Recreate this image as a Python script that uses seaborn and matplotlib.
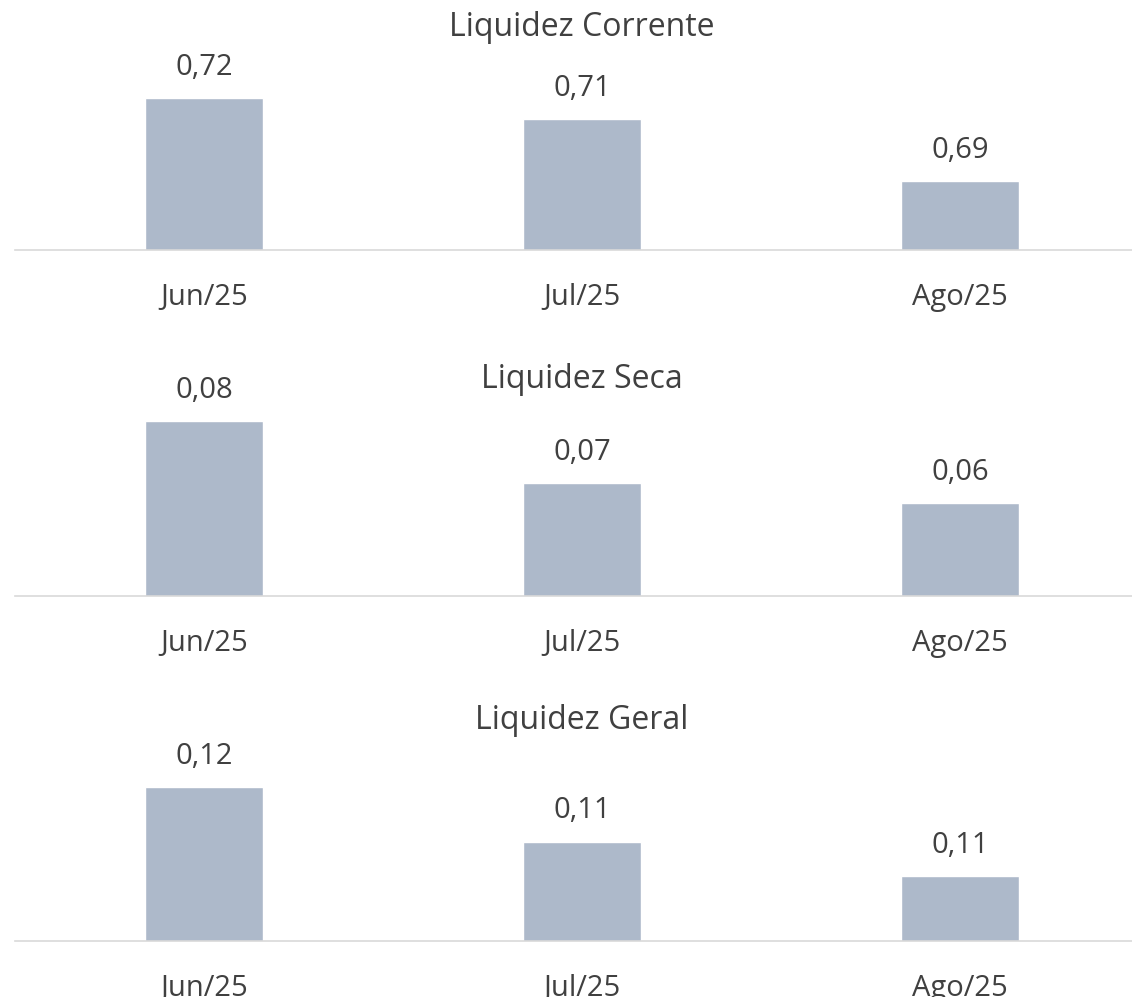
import matplotlib
matplotlib.use('Agg')
import matplotlib.pyplot as plt
import seaborn as sns
import pandas as pd

# data (bar heights estimated, labels as printed)
months = ['Jun/25', 'Jul/25', 'Ago/25']
titles = ['Liquidez Corrente', 'Liquidez Seca', 'Liquidez Geral']
corrente = [0.7230, 0.7147, 0.6900]
seca = [0.0840, 0.0689, 0.0640]
geral = [0.1180, 0.1106, 0.1060]
corrente_labels = ['0,72', '0,71', '0,69']
seca_labels = ['0,08', '0,07', '0,06']
geral_labels = ['0,12', '0,11', '0,11']

# truncated value axes, like the Excel original
ylims = [(0.6626, 0.7381), (0.0413, 0.0891), (0.0972, 0.1236)]

sns.set_theme(style='white')
plt.rcParams['font.family'] = ['Open Sans', 'DejaVu Sans']

TEXT = '#404040'
BAR = '#ADB9CA'
LINE = '#D9D9D9'

W, H = 1132, 997
fig = plt.figure(figsize=(W / 100, H / 100), dpi=100)

# (axes top px, baseline px, title centre px)
panels = [(60, 250, 27), (400, 596, 379), (745, 941, 720)]
series = [corrente, seca, geral]
labels = [corrente_labels, seca_labels, geral_labels]

for (top, base, ty), title, vals, labs, lim in zip(panels, titles, series, labels, ylims):
    ax = fig.add_axes([15 / W, 1 - base / H, 1134 / W, (base - top) / H])
    df = pd.DataFrame({'month': months, 'value': vals})
    sns.barplot(data=df, x='month', y='value', color=BAR, width=0.312,
                saturation=1, ax=ax)
    ax.set_xlim(-0.5, 2.5)
    ax.set_ylim(*lim)
    for i, (v, s) in enumerate(zip(vals, labs)):
        ax.annotate(s, (i, v), xytext=(0, 22), textcoords='offset points',
                    ha='center', va='center', fontsize=21, color=TEXT)
    for sp in ['top', 'left', 'right']:
        ax.spines[sp].set_visible(False)
    ax.spines['bottom'].set_color(LINE)
    ax.spines['bottom'].set_linewidth(1.2)
    ax.set_yticks([])
    ax.set_xlabel('')
    ax.set_ylabel('')
    ax.tick_params(axis='x', length=0, pad=24, labelsize=21, labelcolor=TEXT)
    ax.patch.set_alpha(0)
    fig.text(582 / W, 1 - ty / H, title, ha='center', va='center',
             fontsize=23, color=TEXT)

fig.savefig('out.png', dpi=100)
plt.close(fig)
